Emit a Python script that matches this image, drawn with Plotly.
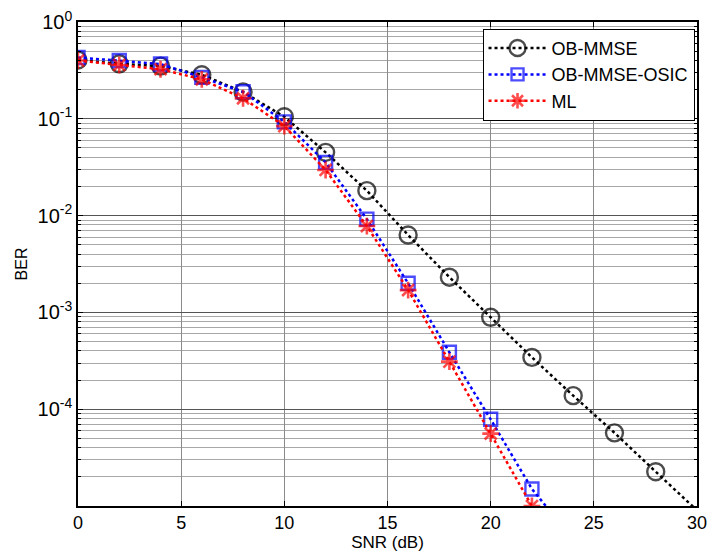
import plotly.graph_objects as go

snr = [0, 2, 4, 6, 8, 10, 12, 14, 16, 18, 20, 22, 24, 26, 28, 30]
ber_mmse = [0.405, 0.37, 0.35, 0.285, 0.189, 0.105, 0.045, 0.0181, 0.0063, 0.00231,
            0.00089, 3.43e-4, 1.38e-4, 5.7e-5, 2.26e-5, 9.0e-6]
snr_osic = [0, 2, 4, 6, 8, 10, 12, 14, 16, 18, 20, 22, 24]
ber_osic = [0.43, 0.40, 0.368, 0.268, 0.19, 0.093, 0.0355, 0.0092, 0.002, 3.87e-4,
            7.86e-5, 1.5e-5, 4.5e-6]
snr_ml = [0, 2, 4, 6, 8, 10, 12, 14, 16, 18, 20, 22, 24]
ber_ml = [0.40, 0.36, 0.325, 0.256, 0.163, 0.084, 0.0296, 0.0078, 0.0017, 3.1e-4,
          5.6e-5, 1.0e-5, 2.0e-6]

major_y = [1e-5, 1e-4, 1e-3, 1e-2, 1e-1, 1]
major_y_text = ["", "10<sup>-4</sup>", "10<sup>-3</sup>", "10<sup>-2</sup>",
                "10<sup>-1</sup>", "10<sup>0</sup>"]
minor_y = [m * 10 ** e for e in range(-5, 0) for m in range(2, 10)]
x_ticks = [0, 5, 10, 15, 20, 25, 30]

fig = go.Figure()

def sizes(xs, s, xmax):
    return [s if x <= xmax else 0 for x in xs]

fig.add_trace(go.Scatter(
    x=snr, y=ber_mmse, name="OB-MMSE", mode="lines+markers", legendgroup="a",
    line=dict(color="black", width=2.5, dash="dot"),
    marker=dict(symbol="circle-open", size=sizes(snr, 17, 28), color="black",
                line=dict(width=2.4, color="black")),
))
fig.add_trace(go.Scatter(
    x=snr_osic, y=ber_osic, name="OB-MMSE-OSIC", mode="lines+markers", legendgroup="b",
    line=dict(color="#0000ff", width=2.5, dash="dot"),
    marker=dict(symbol="square-open", size=sizes(snr_osic, 13, 22), color="#0000ff",
                line=dict(width=2.4, color="#0000ff")),
))
fig.add_trace(go.Scatter(
    x=snr_ml, y=ber_ml, name="ML", mode="lines+markers", legendgroup="c",
    line=dict(color="#ff0000", width=2.5, dash="dot"),
    marker=dict(symbol="asterisk-open", size=sizes(snr_ml, 14, 22), color="#ff0000",
                line=dict(width=2.6, color="#ff0000")),
))

fig.update_layout(
    width=713, height=560,
    margin=dict(l=78, r=16, t=22, b=54, autoexpand=False),
    paper_bgcolor="white", plot_bgcolor="white",
    font=dict(family="Liberation Sans, Arial, sans-serif", size=18, color="black"),
    showlegend=True,
    legend=dict(
        x=0.996, y=0.986, xanchor="right", yanchor="top",
        bgcolor="white", bordercolor="black", borderwidth=1,
        font=dict(size=18), tracegroupgap=0, itemwidth=58,
    ),
)

fig.update_xaxes(
    range=[0, 30], tickvals=x_ticks, automargin=False,
    showgrid=True, gridcolor="#8a8a8a", gridwidth=1,
    showline=True, linecolor="black", linewidth=1.5, mirror="allticks",
    ticks="inside", ticklen=5, tickcolor="black",
    zeroline=False, ticklabeloverflow="allow",
    tickfont=dict(size=18),
    title=dict(text="SNR (dB)", font=dict(size=17), standoff=3),
)
fig.update_yaxes(
    type="log", range=[-5, 0], automargin=False,
    tickvals=major_y, ticktext=major_y_text,
    showgrid=True, gridcolor="#555555", gridwidth=1,
    showline=True, linecolor="black", linewidth=1.5, mirror="allticks",
    ticks="inside", ticklen=5, tickcolor="black",
    zeroline=False, ticklabeloverflow="allow",
    tickfont=dict(size=20),
    minor=dict(tickvals=minor_y, ticks="inside", ticklen=3, tickcolor="black",
               showgrid=True, gridcolor="#a8a8a8", gridwidth=1),
    title=dict(text="BER", font=dict(size=16), standoff=6),
)

fig.write_html("out.html", config={"displayModeBar": False},
               post_script="document.body.style.margin='0px';")
